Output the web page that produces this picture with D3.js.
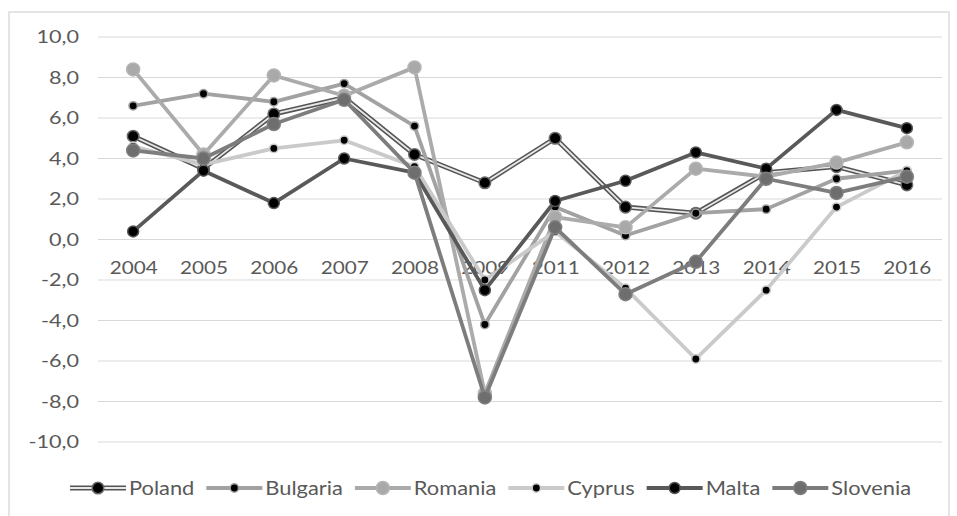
<html>
<head>
<meta charset="utf-8">
<style>
  body { margin: 0; background: #fff; }
  text { font-family: Lato, "Open Sans", sans-serif; fill: #595959; }
</style>
</head>
<body>
<svg id="chart"></svg>
<script src="https://cdn.jsdelivr.net/npm/d3@7"></script>
<script>

let years = ["2004","2005","2006","2007","2008","2009","2011","2012","2013","2014","2015","2016"];
let yTicks = [-10, -8, -6, -4, -2, 0, 2, 4, 6, 8, 10];

let poland   = [5.1, 3.5, 6.2, 7.0, 4.2, 2.8, 5.0, 1.6, 1.3, 3.3, 3.6, 2.7];
let bulgaria = [6.6, 7.2, 6.8, 7.7, 5.6, -4.2, 1.6, 0.2, 1.3, 1.5, 3.0, 3.4];
let romania  = [8.4, 4.2, 8.1, 7.1, 8.5, -7.6, 1.1, 0.6, 3.5, 3.1, 3.8, 4.8];
let cyprus   = [4.6, 3.7, 4.5, 4.9, 3.6, -2.0, 0.4, -2.4, -5.9, -2.5, 1.6, 3.4];
let malta    = [0.4, 3.4, 1.8, 4.0, 3.3, -2.5, 1.9, 2.9, 4.3, 3.5, 6.4, 5.5];
let slovenia = [4.4, 4.0, 5.7, 6.9, 3.3, -7.8, 0.6, -2.7, -1.1, 3.0, 2.3, 3.1];

let width = 957, height = 516;

let svg = d3.select("#chart")
            .attr("width", width)
            .attr("height", height);

// outer frame
svg.append("rect")
   .attr("x", 9).attr("y", 12)
   .attr("width", 940).attr("height", 530)
   .attr("fill", "none")
   .attr("stroke", "#dcdcdc")
   .attr("stroke-width", 1.5);

let x = d3.scalePoint().domain(years).range([98, 942]).padding(0.5);
let y = d3.scaleLinear().domain([-10, 10]).range([442, 37]);

// gridlines
svg.append("g")
   .selectAll("line")
   .data(yTicks)
   .enter()
   .append("line")
   .attr("x1", 98).attr("x2", 942)
   .attr("y1", d => y(d)).attr("y2", d => y(d))
   .attr("stroke", "#d9d9d9")
   .attr("stroke-width", 1.2);

// y labels (text stretched a bit wider, like the original)
let fmt = d => d.toFixed(1).replace(".", ",");
let yAxis = svg.append("g")
   .attr("transform", "translate(79,0)")
   .call(d3.axisLeft(y).tickValues(yTicks).tickFormat(fmt).tickSize(0).tickPadding(0));
yAxis.select(".domain").remove();
yAxis.selectAll("text")
     .style("font-size", "18px")
     .attr("fill", "#595959")
     .attr("transform", "scale(1.2,1)");

// x labels sit just under zero line
let xAxis = svg.append("g")
   .attr("transform", `translate(0,${y(0)})`)
   .call(d3.axisBottom(x).tickSize(0).tickPadding(22));
xAxis.select(".domain").remove();
xAxis.selectAll("text")
     .style("font-size", "18px")
     .attr("fill", "#595959")
     .attr("transform", "scale(1.15,1)");

let series = [
    {name: "Poland",   values: poland,   line: "#555555", inner: "#e8e8e8", lw: 5,   dot: "#000", dotStroke: "#6a6a6a", r: 5.8},
    {name: "Bulgaria", values: bulgaria, line: "#a2a2a2", inner: null,      lw: 3.8, dot: "#000", dotStroke: "#a2a2a2", r: 4.2},
    {name: "Romania",  values: romania,  line: "#ababab", inner: null,      lw: 3.8, dot: "#a9a9a9", dotStroke: "#b5b5b5", r: 6.5},
    {name: "Cyprus",   values: cyprus,   line: "#cacaca", inner: null,      lw: 3.8, dot: "#000", dotStroke: "#cacaca", r: 4.2},
    {name: "Malta",    values: malta,    line: "#595959", inner: null,      lw: 3.8, dot: "#000", dotStroke: "#555555", r: 5.5},
    {name: "Slovenia", values: slovenia, line: "#7d7d7d", inner: null,      lw: 3.8, dot: "#6e6e6e", dotStroke: "#808080", r: 6.5}
];

let line = d3.line()
             .x((d, i) => x(years[i]))
             .y(d => y(d));

series.forEach(s => {
    let g = svg.append("g");
    g.append("path")
     .attr("d", line(s.values))
     .attr("fill", "none")
     .attr("stroke", s.line)
     .attr("stroke-width", s.lw)
     .attr("stroke-linejoin", "round");
    if (s.inner) {
        g.append("path")
         .attr("d", line(s.values))
         .attr("fill", "none")
         .attr("stroke", s.inner)
         .attr("stroke-width", 1.8)
         .attr("stroke-linejoin", "round");
    }
    g.selectAll("circle")
     .data(s.values)
     .enter()
     .append("circle")
     .attr("cx", (d, i) => x(years[i]))
     .attr("cy", d => y(d))
     .attr("r", s.r)
     .attr("fill", s.dot)
     .attr("stroke", s.dotStroke)
     .attr("stroke-width", 1.5);
});

// legend
let legend = svg.append("g").attr("transform", "translate(0,488)");
let lx = 70;
let stretch = 1.15;
series.forEach(s => {
    let item = legend.append("g").attr("transform", `translate(${lx},0)`);
    item.append("line")
        .attr("x1", 0).attr("x2", 56)
        .attr("stroke", s.line).attr("stroke-width", s.lw);
    if (s.inner) {
        item.append("line")
            .attr("x1", 0).attr("x2", 56)
            .attr("stroke", s.inner).attr("stroke-width", 1.8);
    }
    item.append("circle")
        .attr("cx", 28).attr("r", s.r)
        .attr("fill", s.dot)
        .attr("stroke", s.dotStroke).attr("stroke-width", 1.5);
    let t = item.append("text")
        .attr("transform", `translate(59,7) scale(${stretch},1)`)
        .style("font-size", "19px")
        .text(s.name);
    lx += 59 + t.node().getComputedTextLength() * stretch + 12;
});

</script>
</body>
</html>
